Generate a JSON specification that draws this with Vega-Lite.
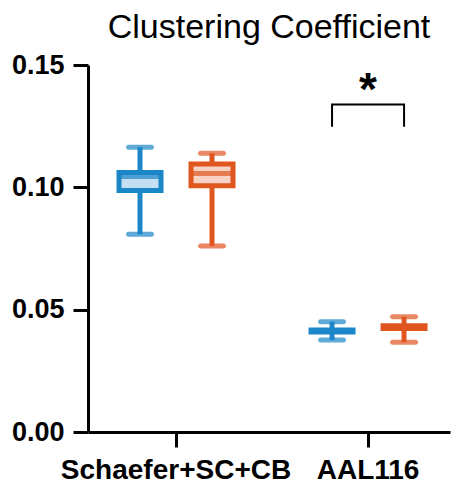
{
  "$schema": "https://vega.github.io/schema/vega-lite/v6.json",
  "width": 362,
  "height": 367,
  "autosize": {"type": "none"},
  "padding": {"left": 88, "top": 65, "right": 7, "bottom": 52},
  "background": "white",
  "title": {
    "text": "Clustering Coefficient",
    "font": "Liberation Sans",
    "fontSize": 34,
    "fontWeight": "normal",
    "color": "black",
    "anchor": "middle",
    "offset": 6
  },
  "config": {
    "view": {"stroke": null},
    "axis": {
      "grid": false,
      "domainColor": "black",
      "domainWidth": 3,
      "tickColor": "black",
      "tickWidth": 3,
      "tickSize": 15,
      "labelFont": "Liberation Sans",
      "labelFontWeight": "bold",
      "labelFontSize": 27,
      "labelColor": "black",
      "labelLimit": 0,
      "title": null
    }
  },
  "datasets": {
    "boxes": [
      {"atlas": "Schaefer+SC+CB", "group": "A", "min": 0.0808, "q1": 0.0987, "median": 0.1044, "q3": 0.1061, "max": 0.1164},
      {"atlas": "Schaefer+SC+CB", "group": "B", "min": 0.0760, "q1": 0.1006, "median": 0.1057, "q3": 0.1095, "max": 0.1139},
      {"atlas": "AAL116", "group": "A", "min": 0.0376, "q1": 0.0409, "median": 0.0413, "q3": 0.0417, "max": 0.0451},
      {"atlas": "AAL116", "group": "B", "min": 0.0367, "q1": 0.0423, "median": 0.0428, "q3": 0.0434, "max": 0.0471}
    ],
    "bracket": [
      {"atlas": "AAL116", "group": "A", "y": 0.1248, "order": 1},
      {"atlas": "AAL116", "group": "A", "y": 0.1339, "order": 2},
      {"atlas": "AAL116", "group": "B", "y": 0.1339, "order": 3},
      {"atlas": "AAL116", "group": "B", "y": 0.1248, "order": 4}
    ],
    "star": [
      {"atlas": "AAL116", "y": 0.1432, "label": "*"}
    ]
  },
  "encoding": {
    "x": {
      "field": "atlas",
      "type": "nominal",
      "sort": null,
      "scale": {"domain": ["Schaefer+SC+CB", "AAL116"], "paddingInner": 0.2, "paddingOuter": 0.0425, "align": 0.686},
      "axis": {"labelAngle": 0, "labelPadding": 9, "labelFontSize": 28, "labelOverlap": false}
    },
    "y": {
      "type": "quantitative",
      "scale": {"domain": [0, 0.15], "nice": false, "zero": true},
      "axis": {"values": [0, 0.05, 0.1, 0.15], "format": ".2f", "labelPadding": 9}
    }
  },
  "layer": [
    {
      "data": {"name": "boxes"},
      "mark": {"type": "rule", "strokeWidth": 5},
      "encoding": {
        "xOffset": {"field": "group", "type": "nominal", "scale": {"domain": ["A", "B"], "paddingInner": 0, "paddingOuter": 0.0667}},
        "y": {"field": "min", "type": "quantitative"},
        "y2": {"field": "max"},
        "color": {"field": "group", "type": "nominal", "scale": {"domain": ["A", "B"], "range": ["#1b86c8", "#e0561f"]}, "legend": null}
      }
    },
    {
      "data": {"name": "boxes"},
      "mark": {"type": "bar", "size": 42, "strokeWidth": 5},
      "encoding": {
        "xOffset": {"field": "group", "type": "nominal"},
        "y": {"field": "q1", "type": "quantitative"},
        "y2": {"field": "q3"},
        "fill": {"field": "group", "type": "nominal", "scale": {"domain": ["A", "B"], "range": ["#c4dff1", "#f8d3c5"]}, "legend": null},
        "stroke": {"field": "group", "type": "nominal", "scale": {"domain": ["A", "B"], "range": ["#1b86c8", "#e0561f"]}, "legend": null}
      }
    },
    {
      "data": {"name": "boxes"},
      "mark": {"type": "tick", "size": 42, "thickness": 5},
      "encoding": {
        "xOffset": {"field": "group", "type": "nominal"},
        "y": {"field": "median", "type": "quantitative"},
        "color": {"field": "group", "type": "nominal", "legend": null}
      }
    },
    {
      "data": {"name": "boxes"},
      "mark": {"type": "tick", "size": 28, "thickness": 5, "cornerRadius": 2.5},
      "encoding": {
        "xOffset": {"field": "group", "type": "nominal"},
        "y": {"field": "min", "type": "quantitative"},
        "color": {"field": "group", "type": "nominal", "legend": null}
      }
    },
    {
      "data": {"name": "boxes"},
      "mark": {"type": "tick", "size": 28, "thickness": 5, "cornerRadius": 2.5},
      "encoding": {
        "xOffset": {"field": "group", "type": "nominal"},
        "y": {"field": "max", "type": "quantitative"},
        "color": {"field": "group", "type": "nominal", "legend": null}
      }
    },
    {
      "data": {"name": "bracket"},
      "mark": {"type": "line", "color": "black", "strokeWidth": 2, "strokeJoin": "miter"},
      "encoding": {
        "xOffset": {"field": "group", "type": "nominal"},
        "y": {"field": "y", "type": "quantitative"},
        "order": {"field": "order", "type": "quantitative"}
      }
    },
    {
      "data": {"name": "star"},
      "mark": {"type": "text", "font": "Liberation Sans", "fontWeight": "bold", "fontSize": 46, "baseline": "middle", "align": "center", "color": "black", "dy": 9},
      "encoding": {
        "y": {"field": "y", "type": "quantitative"},
        "text": {"field": "label"}
      }
    }
  ]
}
